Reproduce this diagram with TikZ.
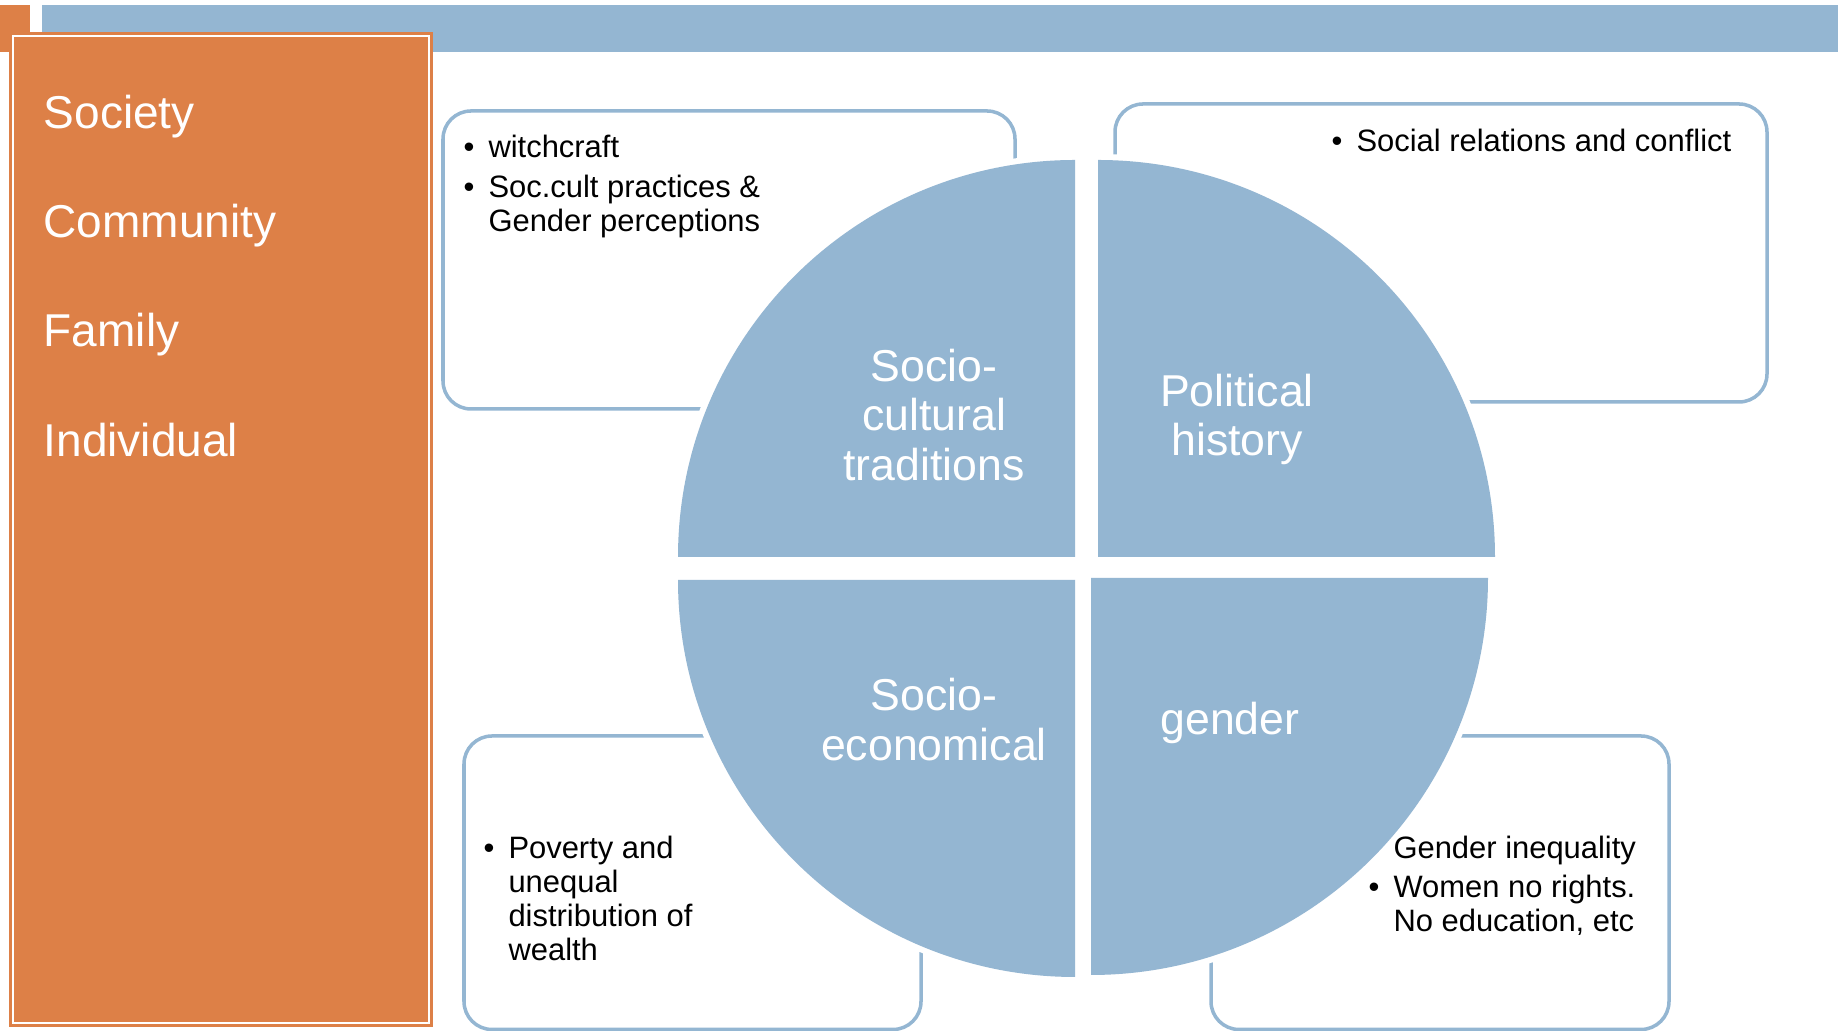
\documentclass[tikz,border=0pt]{standalone}
\usepackage{fontspec}
\setmainfont{Liberation Sans}
\usepackage{tikz}
\usetikzlibrary{calc}
\definecolor{medblue}{HTML}{94B6D2}
\definecolor{medorange}{HTML}{DD8047}
\def\quarterdisc(#1)(#2:#3){\fill[quadfill] (#1) -- ($(#1)+(#2:3.97)$) arc (#2:#3:3.97) -- cycle;}
\tikzset{
	quadfill/.style={fill=medblue, preaction={draw=white, line width=1.2mm}},
	infobox/.style={draw=medblue, line width=1pt, rounded corners=2.8mm},
	panellabel/.style={anchor=base west, inner sep=0pt, text=white, font=\fontsize{13.1}{15}\selectfont},
	quadlabel/.style={inner sep=0pt, text=white, align=center, font=\fontsize{12.7}{14.2}\selectfont},
	bullettext/.style={anchor=base west, inner sep=0pt, font=\fontsize{8.8}{9.67}\selectfont},
}

\begin{document}
\begin{tikzpicture}
		%%%%% START %%%%%
		\useasboundingbox (0, 0) rectangle (18.38, 10.31);
		
		\fill[medblue] (0.42, 9.79) rectangle (18.38, 10.26);
		\fill[medorange] (0, 9.79) rectangle (0.30, 10.26);
		
		\fill[medorange] (0.09, 0.04) rectangle (4.33, 9.99);
		\draw[white, line width=0.5pt] (0.13, 0.08) rectangle (4.29, 9.95);
		
		\node[panellabel] (society) at (0.43, 9.028) {Society};
		\node[panellabel] (community) at (0.43, 7.938) {Community};
		\node[panellabel] (family) at (0.43, 6.848) {Family};
		\node[panellabel] (individual) at (0.43, 5.748) {Individual};
		
		\draw[infobox] (4.43, 6.22) rectangle (10.15, 9.20);
		\draw[infobox] (11.15, 6.29) rectangle (17.67, 9.27);
		\draw[infobox] (4.64, 0.015) rectangle (9.21, 2.95);
		\draw[infobox] (12.11, 0.015) rectangle (16.69, 2.95);
		
		\quarterdisc(10.75, 4.74)(180:90);
		\quarterdisc(10.98, 4.74)(90:0);
		\quarterdisc(10.75, 4.51)(270:180);
		\quarterdisc(10.91, 4.53)(0:-90);
		
		\node[quadlabel] (soccult) at (9.34, 6.16) {Socio-\\cultural\\traditions};
		\node[quadlabel] (politics) at (12.37, 6.115) {Political\\history};
		\node[quadlabel] (soceco) at (9.34, 3.11) {Socio-\\economical};
		\node[quadlabel] (gender) at (12.30, 3.085) {gender};
		
		\node[bullettext] (witchcraft) at (4.63, 8.733) {\begin{tabular}[t]{@{}l@{\hspace{0.14cm}}l@{}}\textbullet & witchcraft\\[1.7pt] \textbullet & Soc.cult practices \&\\ & Gender perceptions\end{tabular}};
		\node[bullettext] (relations) at (13.31, 8.797) {\begin{tabular}[t]{@{}l@{\hspace{0.14cm}}l@{}}\textbullet & Social relations and conflict\end{tabular}};
		\node[bullettext] (poverty) at (4.83, 1.725) {\begin{tabular}[t]{@{}l@{\hspace{0.14cm}}l@{}}\textbullet & Poverty and\\ & unequal\\ & distribution of\\ & wealth\end{tabular}};
		\node[bullettext] (inequality) at (13.68, 1.725) {\begin{tabular}[t]{@{}l@{\hspace{0.14cm}}l@{}} & Gender inequality\\[1.4pt] \textbullet & Women no rights.\\ & No education, etc\end{tabular}};
		
		%%%%% END %%%%%
	\end{tikzpicture}
\end{document}
